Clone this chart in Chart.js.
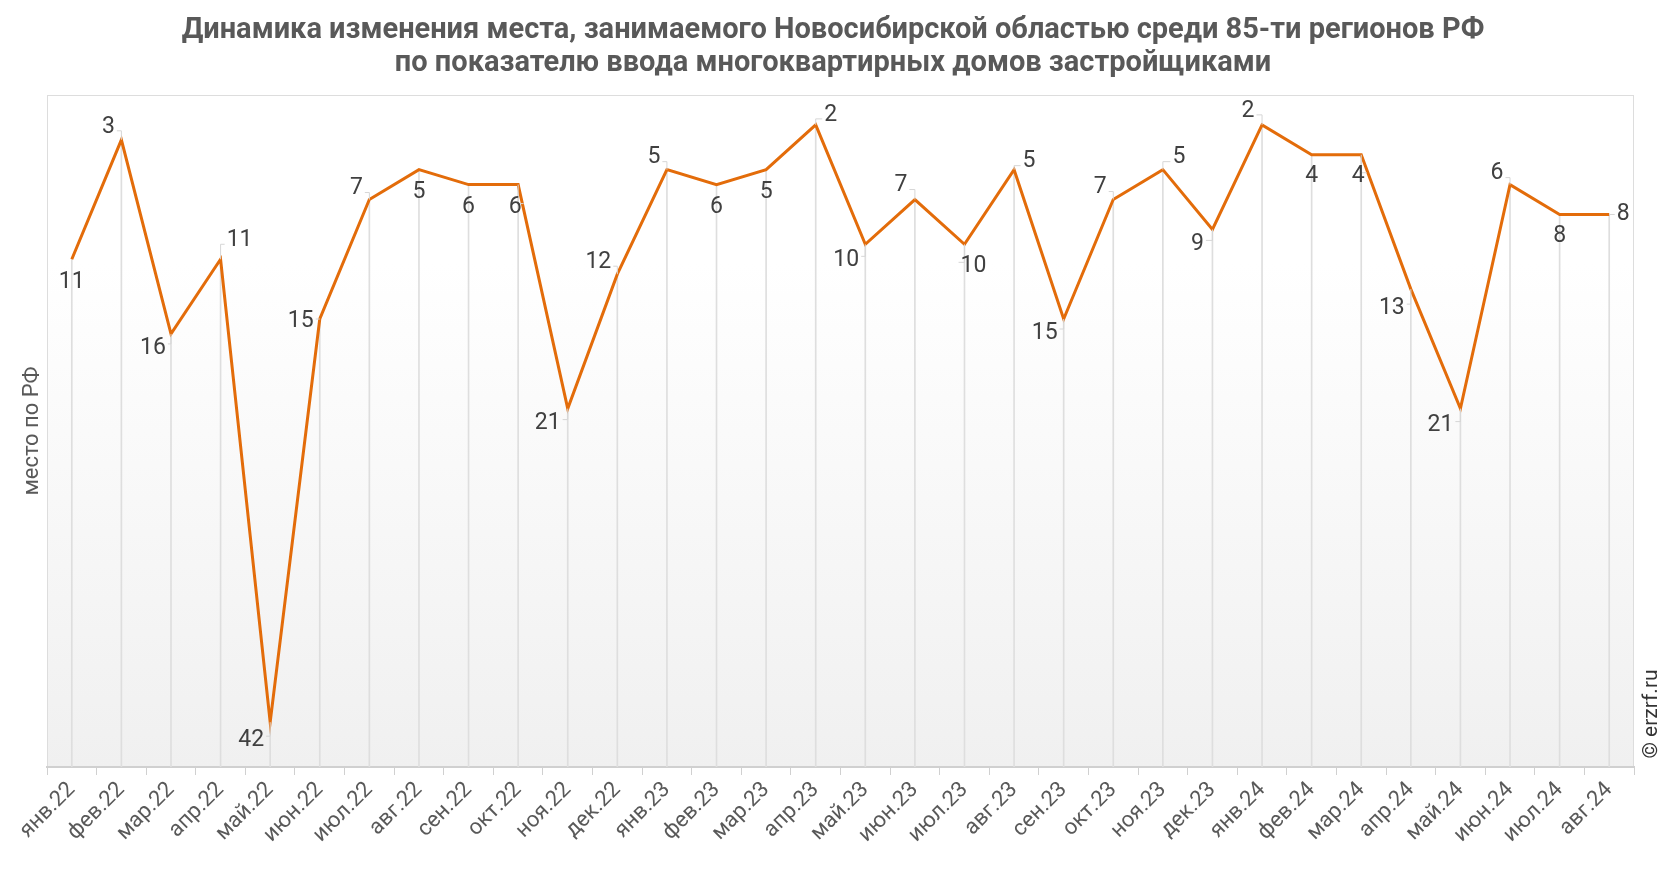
<!DOCTYPE html>
<html lang="ru">
<head>
    <meta charset="UTF-8">
    <title>Новосибирская область - место по РФ</title>
    <script src="https://cdn.jsdelivr.net/npm/chart.js"></script>
    <style>
        body { margin: 0; background: #fff; }
        * { font-family: 'Roboto', sans-serif; }
    </style>
</head>
<body>
    <canvas id="rankChart" width="1666" height="872"></canvas>

    <script>
        // months on the x axis
        const months = [
            'янв.22', 'фев.22', 'мар.22', 'апр.22', 'май.22', 'июн.22', 'июл.22', 'авг.22',
            'сен.22', 'окт.22', 'ноя.22', 'дек.22', 'янв.23', 'фев.23', 'мар.23', 'апр.23',
            'май.23', 'июн.23', 'июл.23', 'авг.23', 'сен.23', 'окт.23', 'ноя.23', 'дек.23',
            'янв.24', 'фев.24', 'мар.24', 'апр.24', 'май.24', 'июн.24', 'июл.24', 'авг.24'
        ];

        // place among 85 regions
        const places = [
            11, 3, 16, 11, 42, 15, 7, 5,
            6, 6, 21, 12, 5, 6, 5, 2,
            10, 7, 10, 5, 15, 7, 5, 9,
            2, 4, 4, 13, 21, 6, 8, 8
        ];

        const yMin = 0;
        const yMax = 45;

        // where each value label sits relative to its point (dx, dy in px)
        const labelOffsets = [
            [0, 23], [-13, -13], [-18, 14], [19, -19], [-19, 18], [-19, 2], [-13, -11], [0, 23],
            [0, 23], [-3, 23], [-20, 15], [-19, -12], [-13, -12], [0, 23], [0, 23], [15, -10],
            [-19, 16], [-14, -14], [9, 22], [15, -8], [-19, 14], [-13, -12], [16, -12], [-15, 15],
            [-14, -14], [0, 22], [-3, 22], [-19, 19], [-20, 17], [-13, -11], [0, 22], [14, 0]
        ];

        const textGray = '#595959';

        const decorPlugin = {
            id: 'decor',
            beforeDraw(chart) {
                const ctx = chart.ctx;
                const a = chart.chartArea;
                ctx.save();
                ctx.fillStyle = '#fff';
                ctx.fillRect(0, 0, chart.width, chart.height);
                const g = ctx.createLinearGradient(0, a.top, 0, a.bottom);
                g.addColorStop(0, '#ffffff');
                g.addColorStop(0.25, '#ffffff');
                g.addColorStop(1, '#f0f0f0');
                ctx.fillStyle = g;
                ctx.fillRect(a.left, a.top, a.right - a.left, a.bottom - a.top);
                ctx.strokeStyle = '#dddddd';
                ctx.lineWidth = 1;
                ctx.strokeRect(a.left + 0.5, a.top + 0.5, a.right - a.left - 1, a.bottom - a.top);

                // title
                ctx.fillStyle = textGray;
                ctx.textAlign = 'center';
                ctx.textBaseline = 'alphabetic';
                ctx.font = 'bold 29px Roboto';
                ctx.fillText('Динамика изменения места, занимаемого Новосибирской областью среди 85-ти регионов РФ', chart.width / 2, 38);
                ctx.fillText('по показателю ввода многоквартирных домов застройщиками', chart.width / 2, 71);

                // y axis title
                ctx.font = '22px Roboto';
                ctx.textBaseline = 'middle';
                ctx.translate(32, (a.top + a.bottom) / 2);
                ctx.rotate(-Math.PI / 2);
                ctx.fillText('место по РФ', 0, 0);
                ctx.restore();

                // watermark
                ctx.save();
                ctx.fillStyle = '#333';
                ctx.font = '21px Roboto';
                ctx.textAlign = 'center';
                ctx.textBaseline = 'middle';
                ctx.translate(1652, 714);
                ctx.rotate(-Math.PI / 2);
                ctx.fillText('© erzrf.ru', 0, 0);
                ctx.restore();
            },
            afterDatasetsDraw(chart) {
                const ctx = chart.ctx;
                const meta = chart.getDatasetMeta(0);
                ctx.save();
                ctx.font = '23px Roboto';
                ctx.textAlign = 'center';
                ctx.textBaseline = 'middle';
                meta.data.forEach((pt, i) => {
                    const off = labelOffsets[i];
                    const lx = pt.x + off[0];
                    const ly = pt.y + off[1];
                    const txt = String(places[i]);
                    const w = ctx.measureText(txt).width;

                    // small leader line from the point towards the label
                    if (off[0] !== 0) {
                        const edgeX = off[0] < 0 ? lx + w / 2 + 2 : lx - w / 2 - 2;
                        const ey = ly + (off[1] < 0 ? 4 : -4);
                        ctx.strokeStyle = '#d6d6d6';
                        ctx.lineWidth = 1;
                        ctx.beginPath();
                        ctx.moveTo(pt.x, pt.y);
                        ctx.lineTo(pt.x, Math.abs(off[1]) > 4 ? ey : pt.y);
                        ctx.lineTo(edgeX, Math.abs(off[1]) > 4 ? ey : pt.y);
                        ctx.stroke();
                    }

                    ctx.fillStyle = '#404040';
                    ctx.fillText(txt, lx, ly);
                });
                ctx.restore();
            }
        };

        const ctx = document.getElementById('rankChart').getContext('2d');
        const rankChart = new Chart(ctx, {
            type: 'line',
            data: {
                labels: months,
                datasets: [
                    {
                        type: 'line',
                        label: 'место',
                        data: places,
                        borderColor: '#e36c0a',
                        borderWidth: 3,
                        pointRadius: 0,
                        tension: 0,
                        fill: false,
                        order: 0
                    },
                    {
                        type: 'bar',
                        label: 'drop',
                        data: places.map(v => [v, yMax]),
                        backgroundColor: '#dedede',
                        barThickness: 1,
                        order: 1
                    }
                ]
            },
            options: {
                responsive: false,
                devicePixelRatio: 1,
                animation: false,
                layout: { padding: { top: 95, right: 32, left: 0, bottom: 0 } },
                plugins: {
                    legend: { display: false },
                    tooltip: { enabled: false },
                    title: { display: false }
                },
                scales: {
                    x: {
                        offset: true,
                        grid: { offset: true, drawOnChartArea: false, tickLength: 8, color: '#d0d0d0', lineWidth: 1 },
                        border: { color: '#d0d0d0', width: 2 },
                        ticks: {
                            autoSkip: false,
                            maxRotation: 45,
                            minRotation: 45,
                            color: textGray,
                            padding: 2,
                            font: { size: 22, family: 'Roboto' }
                        },
                        afterFit: s => { s.height = 105; }
                    },
                    y: {
                        reverse: true,
                        min: yMin,
                        max: yMax,
                        ticks: { display: false },
                        grid: { display: false },
                        border: { display: false },
                        afterFit: s => { s.width = 47; }
                    }
                }
            },
            plugins: [decorPlugin]
        });
    </script>
</body>
</html>
